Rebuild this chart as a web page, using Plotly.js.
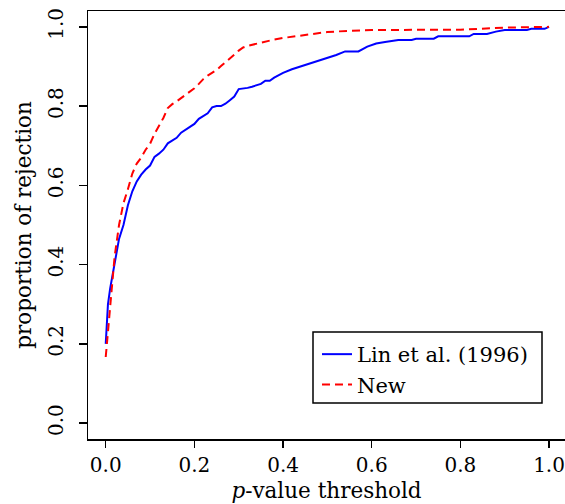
<!DOCTYPE html>
<html>
<head>
<meta charset="utf-8">
<script src="https://cdn.plot.ly/plotly-3.0.1.min.js"></script>
<style>html,body{margin:0;padding:0;background:#fff;}#chart{width:565px;height:504px;}</style>
</head>
<body>
<div id="chart"></div>
<script>
var linX = [0, 0.005, 0.01, 0.02, 0.03, 0.04, 0.05, 0.06, 0.07, 0.08, 0.09, 0.10, 0.11, 0.12, 0.13, 0.14, 0.15, 0.16, 0.17, 0.18, 0.19, 0.20, 0.21, 0.22, 0.23, 0.24, 0.25, 0.26, 0.27, 0.28, 0.29, 0.30, 0.31, 0.32, 0.33, 0.34, 0.35, 0.36, 0.37, 0.38, 0.39, 0.40, 0.42, 0.44, 0.46, 0.48, 0.50, 0.52, 0.54, 0.57, 0.59, 0.61, 0.63, 0.66, 0.69, 0.70, 0.74, 0.75, 0.82, 0.83, 0.86, 0.88, 0.90, 0.95, 0.96, 0.99, 1.0];
var linY = [0.20, 0.30, 0.34, 0.40, 0.465, 0.50, 0.55, 0.585, 0.61, 0.627, 0.64, 0.65, 0.672, 0.68, 0.69, 0.706, 0.712, 0.72, 0.733, 0.74, 0.748, 0.755, 0.768, 0.774, 0.782, 0.797, 0.80, 0.80, 0.806, 0.815, 0.824, 0.843, 0.844, 0.846, 0.849, 0.853, 0.856, 0.864, 0.864, 0.872, 0.879, 0.884, 0.893, 0.90, 0.908, 0.915, 0.923, 0.929, 0.938, 0.938, 0.950, 0.958, 0.962, 0.967, 0.967, 0.970, 0.970, 0.976, 0.976, 0.982, 0.982, 0.988, 0.992, 0.992, 0.995, 0.995, 1.0];

var newX = [0, 0.01, 0.02, 0.03, 0.04, 0.05, 0.06, 0.07, 0.08, 0.09, 0.10, 0.11, 0.12, 0.13, 0.14, 0.15, 0.16, 0.17, 0.18, 0.19, 0.20, 0.21, 0.22, 0.23, 0.24, 0.25, 0.26, 0.27, 0.28, 0.29, 0.30, 0.31, 0.32, 0.34, 0.36, 0.38, 0.40, 0.43, 0.46, 0.50, 0.55, 0.60, 0.80, 0.85, 0.90, 1.0];
var newY = [0.167, 0.30, 0.42, 0.50, 0.555, 0.59, 0.63, 0.655, 0.67, 0.69, 0.705, 0.73, 0.75, 0.77, 0.795, 0.805, 0.812, 0.82, 0.828, 0.836, 0.845, 0.856, 0.868, 0.877, 0.884, 0.891, 0.901, 0.91, 0.92, 0.93, 0.94, 0.948, 0.952, 0.958, 0.963, 0.968, 0.972, 0.977, 0.982, 0.987, 0.99, 0.992, 0.993, 0.996, 0.998, 1.0];

var seriesNames = ["Lin et al. (1996)", "New"];
var tickVals = [0, 0.2, 0.4, 0.6, 0.8, 1.0];
var tickText = ["0.0", "0.2", "0.4", "0.6", "0.8", "1.0"];

var FONT = "DejaVu Serif";
var PW = 477, PH = 428; // plot area size in px (left 88, top 11)
function px2x(p) { return (p - 88) / PW; }
function px2y(p) { return (439 - p) / PH; }

var traces = [
  {x: linX, y: linY, mode: "lines", name: seriesNames[0],
   line: {color: "#0000ff", width: 2}},
  {x: newX, y: newY, mode: "lines", name: seriesNames[1],
   line: {color: "#ff0000", width: 2, dash: "8px,5px"}}
];

var layout = {
  width: 565, height: 504,
  margin: {l: 88, r: 0, t: 11, b: 65, pad: 0},
  paper_bgcolor: "#fff", plot_bgcolor: "#fff",
  font: {family: FONT, size: 20, color: "#000"},
  showlegend: true,
  legend: {
    x: px2x(317), y: px2y(334), xanchor: "left", yanchor: "top",
    bgcolor: "rgba(0,0,0,0)", borderwidth: 0,
    font: {family: FONT, size: 21, color: "#000"},
    itemwidth: 30, tracegroupgap: 0
  },
  shapes: [{
    type: "rect", xref: "paper", yref: "paper",
    x0: px2x(313), x1: px2x(542), y0: px2y(403), y1: px2y(332),
    line: {color: "#000", width: 1.5}, fillcolor: "rgba(0,0,0,0)", layer: "below"
  }],
  xaxis: {
    range: [-0.04, 1.036], tickvals: tickVals, ticktext: tickText,
    showgrid: false, zeroline: false,
    showline: true, linecolor: "#000", linewidth: 1.5, mirror: true,
    ticks: "outside", ticklen: 7, tickwidth: 1.5, tickcolor: "#000",
    tickfont: {family: FONT, size: 20},
    title: {text: "<i>p</i>-value threshold", font: {family: FONT, size: 21.5}, standoff: 7}
  },
  yaxis: {
    range: [-0.04, 1.04], tickvals: tickVals, ticktext: tickText,
    showgrid: false, zeroline: false,
    showline: true, linecolor: "#000", linewidth: 1.5, mirror: false,
    ticks: "outside", ticklen: 8, tickwidth: 1.5, tickcolor: "#000",
    tickangle: -90, ticklabelstandoff: 8,
    tickfont: {family: FONT, size: 20},
    title: {text: "proportion of rejection", font: {family: FONT, size: 21.5}, standoff: 6}
  }
};

Plotly.newPlot("chart", traces, layout, {displayModeBar: false, staticPlot: true});
</script>
</body>
</html>
